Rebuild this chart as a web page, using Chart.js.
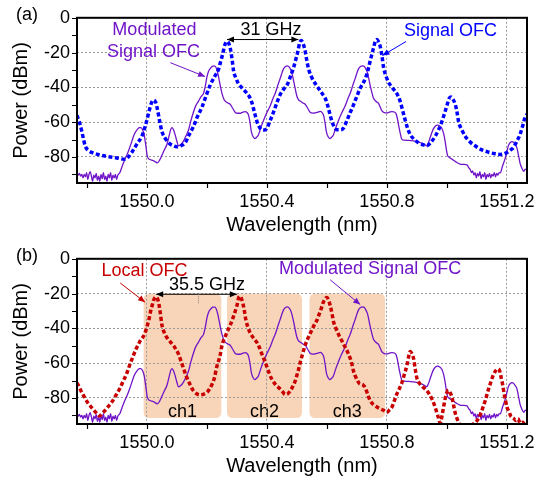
<!DOCTYPE html>
<html><head><meta charset="utf-8">
<script src="https://cdn.jsdelivr.net/npm/chart.js@4.4.1/dist/chart.umd.min.js"></script>
<style>
html,body{margin:0;padding:0;background:#fff;}
#wrap{position:relative;width:547px;height:481px;background:#fff;}
.pane{position:absolute;left:0;width:547px;height:240px;}
canvas{display:block;}
</style></head><body>
<div id="wrap">
<div class="pane" style="top:0px"><canvas id="ca" width="547" height="240"></canvas></div>
<div class="pane" style="top:241px"><canvas id="cb" width="547" height="240"></canvas></div>
</div>
<script>
// ---------- data ----------
const xTicks = [1550.0, 1550.4, 1550.8, 1551.2];
const yTicks = [0, -20, -40, -60, -80];

// (a) Signal OFC (blue dotted)
const signalWl = [1549.767,1549.775,1549.783,1549.789,1549.794,1549.805,1549.822,1549.85,1549.878,1549.9,1549.924,1549.938,1549.95,1549.967,1549.983,1549.995,1550.005,1550.014,1550.022,1550.029,1550.035,1550.042,1550.05,1550.06,1550.072,1550.085,1550.1,1550.114,1550.128,1550.14,1550.155,1550.168,1550.183,1550.197,1550.211,1550.225,1550.239,1550.246,1550.252,1550.26,1550.267,1550.273,1550.278,1550.284,1550.289,1550.297,1550.305,1550.318,1550.333,1550.342,1550.35,1550.358,1550.367,1550.375,1550.383,1550.392,1550.4,1550.41,1550.422,1550.433,1550.444,1550.456,1550.467,1550.478,1550.489,1550.497,1550.503,1550.509,1550.514,1550.52,1550.528,1550.533,1550.539,1550.55,1550.561,1550.572,1550.583,1550.592,1550.6,1550.608,1550.617,1550.625,1550.633,1550.645,1550.655,1550.667,1550.678,1550.69,1550.7,1550.711,1550.728,1550.737,1550.744,1550.75,1550.755,1550.761,1550.767,1550.772,1550.778,1550.784,1550.789,1550.797,1550.805,1550.817,1550.828,1550.836,1550.844,1550.852,1550.861,1550.87,1550.878,1550.89,1550.905,1550.92,1550.933,1550.947,1550.961,1550.972,1550.983,1550.992,1551.0,1551.007,1551.013,1551.02,1551.028,1551.034,1551.039,1551.05,1551.061,1551.078,1551.094,1551.115,1551.139,1551.16,1551.178,1551.2,1551.212,1551.222,1551.233,1551.244,1551.252,1551.261,1551.267];
const signalPow = [-56.1,-60,-65.3,-70,-73.6,-76.3,-77.8,-79.2,-80,-80.6,-81.3,-80,-77.3,-72.5,-68.1,-62,-55.3,-49.5,-47.3,-48.5,-52.5,-59,-65.3,-69,-71.8,-73.4,-74.2,-73.5,-71.8,-67.5,-62.6,-57,-51.6,-45,-38.7,-34,-29.5,-25,-21.3,-15.5,-13.6,-14.8,-17.6,-24,-30.5,-34.8,-37.8,-40.5,-43.3,-45.5,-48.8,-54,-59.8,-62.8,-64.4,-64.5,-63.5,-59.5,-54.3,-49,-44.2,-41,-38.7,-34,-28.6,-23.5,-19.5,-14.5,-13,-14.5,-19.5,-24.5,-29.5,-34.5,-37.8,-40.5,-43.3,-45.5,-48.8,-54,-59.8,-62.8,-64.4,-64.4,-63.5,-59,-54.3,-49.5,-45.1,-40.5,-35,-30,-25,-21,-17.6,-13.8,-12.5,-13.8,-16.7,-22.5,-28.6,-33.5,-36.9,-40,-42.4,-44.5,-47.9,-53,-58.9,-64,-67.2,-69.8,-71.8,-73,-73.6,-71.5,-68.1,-64.5,-59.8,-55,-50.6,-46.5,-45.5,-46.8,-49.8,-54.5,-59.8,-64.5,-68.1,-71.5,-73.6,-75.8,-77.3,-78.2,-78.6,-77.5,-76,-74.5,-71,-67,-62.5,-57,-55.5];

// Modulated Signal OFC (purple solid, both panels)
const modWl = [1549.767,1549.771,1549.775,1549.779,1549.783,1549.787,1549.791,1549.795,1549.799,1549.803,1549.807,1549.811,1549.815,1549.819,1549.823,1549.827,1549.831,1549.835,1549.839,1549.843,1549.847,1549.851,1549.855,1549.859,1549.863,1549.867,1549.871,1549.875,1549.879,1549.883,1549.887,1549.891,1549.895,1549.899,1549.903,1549.91,1549.917,1549.925,1549.933,1549.942,1549.95,1549.958,1549.967,1549.975,1549.98,1549.986,1549.991,1549.996,1550.002,1550.01,1550.02,1550.03,1550.035,1550.042,1550.05,1550.058,1550.067,1550.075,1550.08,1550.084,1550.089,1550.094,1550.1,1550.105,1550.112,1550.122,1550.13,1550.139,1550.147,1550.155,1550.163,1550.172,1550.18,1550.189,1550.195,1550.2,1550.205,1550.211,1550.218,1550.224,1550.23,1550.235,1550.239,1550.245,1550.25,1550.256,1550.261,1550.27,1550.278,1550.286,1550.294,1550.303,1550.311,1550.32,1550.328,1550.334,1550.339,1550.344,1550.348,1550.353,1550.359,1550.365,1550.372,1550.38,1550.389,1550.4,1550.411,1550.42,1550.428,1550.436,1550.444,1550.45,1550.455,1550.462,1550.469,1550.475,1550.481,1550.487,1550.492,1550.5,1550.505,1550.511,1550.52,1550.528,1550.536,1550.544,1550.553,1550.561,1550.57,1550.578,1550.584,1550.589,1550.594,1550.598,1550.603,1550.609,1550.615,1550.622,1550.63,1550.639,1550.65,1550.661,1550.67,1550.678,1550.686,1550.694,1550.7,1550.705,1550.712,1550.719,1550.725,1550.73,1550.735,1550.744,1550.75,1550.755,1550.763,1550.772,1550.778,1550.783,1550.791,1550.8,1550.808,1550.817,1550.825,1550.831,1550.835,1550.839,1550.844,1550.85,1550.858,1550.867,1550.88,1550.894,1550.905,1550.917,1550.925,1550.933,1550.938,1550.944,1550.95,1550.955,1550.962,1550.969,1550.976,1550.983,1550.989,1550.994,1550.998,1551.002,1551.01,1551.022,1551.033,1551.044,1551.055,1551.067,1551.072,1551.078,1551.082,1551.086,1551.09,1551.094,1551.098,1551.102,1551.106,1551.11,1551.114,1551.118,1551.122,1551.126,1551.13,1551.134,1551.138,1551.142,1551.146,1551.15,1551.154,1551.158,1551.162,1551.166,1551.17,1551.174,1551.178,1551.185,1551.194,1551.2,1551.205,1551.211,1551.217,1551.223,1551.228,1551.233,1551.238,1551.244,1551.25,1551.256,1551.261,1551.267];
const modPow = [-89,-90.5,-89.5,-91,-90,-92,-90,-91.5,-89,-93,-90,-88.5,-91,-94,-90.5,-92,-89.5,-93.5,-91,-94,-90,-92.5,-89,-93,-91,-94,-90,-92,-89,-93.5,-90.5,-92,-90,-93,-90.5,-89,-85.6,-82,-79,-75,-70.9,-67,-64.4,-63.2,-63.1,-64.5,-67.2,-73,-80,-81.5,-82,-83,-83.4,-82,-79.1,-76,-72.7,-67.2,-64,-63.1,-64.5,-67.2,-71,-73.6,-73,-70.9,-68,-64.4,-59,-54.3,-50.5,-47.9,-45.5,-43.3,-39,-34.1,-31,-29.2,-27.9,-27.7,-28.4,-31,-34.1,-39.5,-43.3,-46.5,-47.9,-49,-49.8,-52,-54.3,-54.9,-54.9,-54.2,-53.9,-54.5,-56.1,-60.5,-65.3,-68,-69.4,-68.8,-67.2,-63,-58.9,-54.5,-50.6,-46.5,-43.3,-39,-35,-31.8,-29.5,-28,-27.7,-28.5,-30.5,-34.5,-38.7,-45.1,-47,-47.9,-49,-49.8,-52,-54.3,-54.8,-54.7,-54.2,-53.8,-54.5,-56.1,-60.5,-65.3,-68,-69.4,-68.8,-67.2,-63,-58.9,-54.5,-50.6,-46.5,-43.3,-39,-35,-31.8,-29.5,-28,-27.7,-28,-29.5,-31.4,-38.7,-43,-46.1,-48,-49.2,-51.5,-53.4,-54.5,-54.7,-54.3,-53.9,-54.2,-55.3,-58,-61.7,-66,-69.9,-70.4,-70.5,-70.6,-70.9,-71.4,-72.1,-72.8,-73.6,-72,-69,-66,-63.9,-62.2,-61.7,-62.2,-63.5,-66.5,-70.9,-75.5,-79.1,-80.5,-81.9,-83.2,-84.1,-84.3,-84.6,-86,-87.4,-89,-88,-90.5,-89,-92,-89.5,-91,-88.5,-92.5,-90,-91.5,-89,-93,-90,-91.5,-89.5,-92,-90,-91,-89,-91.5,-89.5,-90.5,-89,-89.2,-85.5,-81,-77,-73.5,-71.8,-71.2,-71.8,-73,-74.5,-78.5,-83.7,-86.5,-88.3,-87,-87.5];

// (b) Local OFC (red dotted)
const localWl = [1549.767,1549.775,1549.783,1549.794,1549.805,1549.817,1549.828,1549.835,1549.842,1549.851,1549.861,1549.872,1549.883,1549.897,1549.911,1549.922,1549.933,1549.944,1549.955,1549.963,1549.972,1549.98,1549.989,1549.996,1550.002,1550.008,1550.013,1550.018,1550.022,1550.027,1550.031,1550.036,1550.04,1550.045,1550.05,1550.058,1550.067,1550.078,1550.089,1550.097,1550.105,1550.113,1550.122,1550.13,1550.139,1550.147,1550.155,1550.166,1550.178,1550.19,1550.2,1550.209,1550.217,1550.225,1550.233,1550.244,1550.25,1550.265,1550.278,1550.289,1550.3,1550.308,1550.314,1550.319,1550.325,1550.33,1550.337,1550.344,1550.355,1550.367,1550.375,1550.383,1550.392,1550.4,1550.408,1550.417,1550.425,1550.433,1550.442,1550.45,1550.461,1550.47,1550.478,1550.486,1550.494,1550.5,1550.505,1550.512,1550.519,1550.526,1550.533,1550.542,1550.55,1550.558,1550.567,1550.574,1550.581,1550.587,1550.592,1550.6,1550.605,1550.611,1550.617,1550.622,1550.63,1550.639,1550.65,1550.661,1550.67,1550.678,1550.684,1550.689,1550.696,1550.703,1550.71,1550.717,1550.722,1550.728,1550.736,1550.744,1550.755,1550.767,1550.778,1550.789,1550.8,1550.808,1550.817,1550.825,1550.833,1550.842,1550.85,1550.858,1550.867,1550.872,1550.878,1550.883,1550.889,1550.894,1550.9,1550.908,1550.917,1550.925,1550.933,1550.942,1550.95,1550.957,1550.964,1550.971,1550.978,1550.984,1550.989,1550.994,1550.998,1551.005,1551.011,1551.017,1551.022,1551.028,1551.034,1551.039,1551.047,1551.055,1551.065,1551.078,1551.086,1551.094,1551.103,1551.111,1551.12,1551.128,1551.136,1551.144,1551.152,1551.161,1551.17,1551.176,1551.18,1551.186,1551.191,1551.196,1551.2,1551.207,1551.213,1551.222,1551.23,1551.237,1551.244,1551.252,1551.26,1551.267];
const localPow = [-71.3,-74,-76.9,-80.2,-83.3,-85.8,-88,-89.3,-90.4,-89,-87.1,-84.8,-82.4,-78.4,-74.1,-70,-65.8,-60.5,-55.6,-52.2,-49.1,-46.5,-44.4,-41.5,-38,-34,-29.7,-26.5,-24.1,-22.3,-21.9,-23.2,-25.9,-31.5,-38,-42.5,-45.4,-47.8,-50,-52.2,-54.7,-58.5,-63,-67,-70.4,-73.5,-75.9,-77.6,-78.3,-77.8,-76.9,-74.8,-72.2,-68.5,-62,-55.6,-50,-43,-38,-33,-27,-21.5,-22.5,-25,-30,-35.2,-39.5,-42.6,-45.5,-48.2,-51,-54.7,-58.5,-62.1,-66,-69.4,-71.5,-73.2,-74.5,-75.9,-78,-77.5,-75.9,-73.5,-70.4,-67,-63.9,-59,-54.7,-50.5,-47.2,-43.8,-40.8,-38,-35.2,-32,-28.7,-25.5,-23.5,-22.2,-23.5,-26.9,-31.5,-36.1,-40,-43.6,-47.2,-50.9,-54,-57.4,-61,-64.8,-68,-70.4,-72,-72.2,-72.8,-74.1,-78,-81.5,-83.8,-85.2,-86.3,-87.1,-88.3,-87,-85.2,-81.5,-77.8,-74.5,-71.3,-66.5,-61.1,-56.5,-53.3,-54.5,-57.4,-63,-68.6,-71.5,-73.2,-74.5,-75.9,-78,-80.6,-83.5,-87.1,-91,-94.5,-90,-85.2,-80.5,-77.8,-75.6,-77,-79.7,-84,-88.9,-92,-94.4,-95.5,-96,-95.8,-96,-95.2,-94.4,-92.5,-89.8,-85.5,-81.5,-76.5,-72.2,-68,-64.8,-63.3,-64.5,-67.6,-72.5,-77.8,-82,-85.2,-88,-90.5,-91.7,-93,-92,-94.4,-94,-95,-95];

// channels (b)
const channelNames = ['ch1', 'ch2', 'ch3'];
const channelStart = [1549.989, 1550.267, 1550.542];
const channelEnd = [1550.248, 1550.517, 1550.794];
const channelTop = -20;
const channelBottom = -91.5;

// ---------- rendering ----------
const FONT = '"Liberation Sans", Arial, Helvetica, sans-serif';
Chart.defaults.font.family = FONT;
Chart.defaults.color = '#000';
const BLUE = '#0000ff', PURPLE = '#7014c8', RED = '#c80000';

function pts(xs, ys) { return xs.map((x, i) => ({x: x, y: ys[i]})); }

function arrowHead(ctx, x1, y1, x2, y2, len, wid) {
  const a = Math.atan2(y2 - y1, x2 - x1);
  ctx.beginPath();
  ctx.moveTo(x2, y2);
  ctx.lineTo(x2 - len * Math.cos(a) + wid * Math.sin(a), y2 - len * Math.sin(a) - wid * Math.cos(a));
  ctx.lineTo(x2 - len * Math.cos(a) - wid * Math.sin(a), y2 - len * Math.sin(a) + wid * Math.cos(a));
  ctx.closePath();
  ctx.fill();
}
function drawArrow(chart, a) {
  const ctx = chart.ctx, xs = chart.scales.x, ys = chart.scales.y;
  const x1 = xs.getPixelForValue(a.x1), y1 = ys.getPixelForValue(a.y1);
  const x2 = xs.getPixelForValue(a.x2), y2 = ys.getPixelForValue(a.y2);
  ctx.save();
  ctx.strokeStyle = a.c; ctx.fillStyle = a.c; ctx.lineWidth = 1;
  ctx.beginPath(); ctx.moveTo(x1, y1); ctx.lineTo(x2, y2); ctx.stroke();
  arrowHead(ctx, x1, y1, x2, y2, 7, 3);
  if (a.both) arrowHead(ctx, x2, y2, x1, y1, 7, 3);
  ctx.restore();
}
function drawText(chart, t) {
  const ctx = chart.ctx;
  ctx.save();
  ctx.font = (t.size || 18) + 'px ' + FONT;
  ctx.fillStyle = t.c; ctx.textAlign = 'center'; ctx.textBaseline = 'middle';
  ctx.fillText(t.t, chart.scales.x.getPixelForValue(t.x), chart.scales.y.getPixelForValue(t.y));
  ctx.restore();
}

function decorPlugin(panel) {
  return {
    id: 'decor' + panel.id,
    beforeDraw(chart) {
      const ctx = chart.ctx;
      ctx.save(); ctx.fillStyle = '#fff'; ctx.fillRect(0, 0, chart.width, chart.height); ctx.restore();
      if (panel.boxes) {
        const xs = chart.scales.x, ys = chart.scales.y;
        ctx.save();
        ctx.fillStyle = '#f8d4b8';
        for (let i = 0; i < channelNames.length; i++) {
          const l = xs.getPixelForValue(channelStart[i]), r = xs.getPixelForValue(channelEnd[i]);
          const t = ys.getPixelForValue(channelTop), b = ys.getPixelForValue(channelBottom);
          const rr = 6;
          ctx.beginPath();
          ctx.moveTo(l + rr, t); ctx.lineTo(r - rr, t); ctx.quadraticCurveTo(r, t, r, t + rr);
          ctx.lineTo(r, b - rr); ctx.quadraticCurveTo(r, b, r - rr, b);
          ctx.lineTo(l + rr, b); ctx.quadraticCurveTo(l, b, l, b - rr);
          ctx.lineTo(l, t + rr); ctx.quadraticCurveTo(l, t, l + rr, t);
          ctx.closePath(); ctx.fill();
        }
        ctx.restore();
        for (let i = 0; i < channelNames.length; i++) {
          drawText(chart, {t: channelNames[i], x: (channelStart[i] + channelEnd[i]) / 2, y: -88.2, c: '#000', size: 18});
        }
      }
    },
    afterDatasetsDraw(chart) {
      const ctx = chart.ctx, a = chart.chartArea, xs = chart.scales.x, ys = chart.scales.y;
      ctx.save();
      // frame
      ctx.strokeStyle = '#000'; ctx.lineWidth = 2;
      ctx.strokeRect(a.left, a.top, a.right - a.left, a.bottom - a.top);
      // ticks
      ctx.lineWidth = 1.2;
      ctx.beginPath();
      for (let v = 1549.8; v <= 1551.27; v += 0.2) {
        const px = Math.round(xs.getPixelForValue(v)) + 0.5;
        ctx.moveTo(px, a.bottom); ctx.lineTo(px, a.bottom + 5);
      }
      for (let v = -90; v <= 0; v += 10) {
        const py = Math.round(ys.getPixelForValue(v)) + 0.5;
        ctx.moveTo(a.left - 5, py); ctx.lineTo(a.left, py);
      }
      ctx.stroke();
      ctx.restore();
      // panel label
      ctx.save();
      ctx.font = '18px ' + FONT; ctx.fillStyle = '#000'; ctx.textAlign = 'left'; ctx.textBaseline = 'middle';
      ctx.fillText(panel.label, 16, 15);
      ctx.restore();
      panel.texts.forEach(t => drawText(chart, t));
      panel.arrows.forEach(ar => drawArrow(chart, ar));
      if (panel.marker) {
        const m = panel.marker;
        ctx.save(); ctx.strokeStyle = '#888'; ctx.lineWidth = 1; ctx.setLineDash([1, 1]);
        const px = xs.getPixelForValue(m.x);
        ctx.beginPath(); ctx.moveTo(px, ys.getPixelForValue(m.y1)); ctx.lineTo(px, ys.getPixelForValue(m.y2)); ctx.stroke();
        ctx.restore();
      }
    }
  };
}

function makeChart(id, datasets, panel) {
  return new Chart(document.getElementById(id), {
    type: 'line',
    data: { datasets: datasets },
    options: {
      responsive: false, animation: false, devicePixelRatio: 1,
      layout: { padding: { top: 12, right: 20, left: 0, bottom: 0 } },
      plugins: { legend: { display: false }, tooltip: { enabled: false } },
      elements: { point: { radius: 0 } },
      scales: {
        x: {
          type: 'linear', min: 1549.767, max: 1551.267,
          afterBuildTicks: s => { s.ticks = xTicks.map(v => ({ value: v })); },
          afterFit: s => { s.height = 57; },
          ticks: { callback: v => v.toFixed(1), font: { size: 18 }, color: '#000', padding: 8, maxRotation: 0, autoSkip: false },
          grid: { color: '#9a9a9a', lineWidth: 1, drawTicks: false },
          border: { display: false, dash: [2, 2] },
          title: { display: true, text: 'Wavelength (nm)', font: { size: 20 }, color: '#000', padding: { top: 0, bottom: 3 } }
        },
        y: {
          type: 'linear', min: -95, max: 0,
          afterBuildTicks: s => { s.ticks = yTicks.map(v => ({ value: v })); },
          afterFit: s => { s.width = 77; },
          ticks: { callback: v => String(v), font: { size: 18 }, color: '#000', padding: 7 },
          grid: { color: '#9a9a9a', lineWidth: 1, drawTicks: false },
          border: { display: false, dash: [2, 2] },
          title: { display: true, text: 'Power (dBm)', font: { size: 20 }, color: '#000', padding: { top: 9, bottom: 0 } }
        }
      }
    },
    plugins: [decorPlugin(panel)]
  });
}

const dotted = (label, xs, ys, color) => ({
  label: label, data: pts(xs, ys), borderColor: color, borderWidth: 3.5,
  borderDash: [4, 2.5], cubicInterpolationMode: 'monotone', pointRadius: 0, clip: 0, fill: false
});
const solid = (label, xs, ys, color) => ({
  label: label, data: pts(xs, ys), borderColor: color, borderWidth: 1.3,
  cubicInterpolationMode: 'monotone', pointRadius: 0, clip: 0, fill: false
});

makeChart('ca', [
  dotted('Signal OFC', signalWl, signalPow, BLUE),
  solid('Modulated Signal OFC', modWl, modPow, PURPLE)
], {
  id: 'a', label: '(a)',
  texts: [
    { t: 'Modulated', x: 1550.025, y: -6.9, c: PURPLE },
    { t: 'Signal OFC', x: 1550.022, y: -19.5, c: PURPLE },
    { t: '31 GHz', x: 1550.414, y: -6.9, c: '#000' },
    { t: 'Signal OFC', x: 1551.012, y: -7.5, c: BLUE }
  ],
  arrows: [
    { x1: 1550.078, y1: -25.8, x2: 1550.194, y2: -33.8, c: PURPLE },
    { x1: 1550.864, y1: -13.6, x2: 1550.785, y2: -21.7, c: BLUE },
    { x1: 1550.267, y1: -12.5, x2: 1550.505, y2: -12.5, c: '#000', both: true }
  ]
});

makeChart('cb', [
  dotted('Local OFC', localWl, localPow, RED),
  solid('Modulated Signal OFC', modWl, modPow, PURPLE)
], {
  id: 'b', label: '(b)', boxes: true,
  texts: [
    { t: 'Local OFC', x: 1549.992, y: -7.1, c: RED },
    { t: '35.5 GHz', x: 1550.2, y: -15.2, c: '#000' },
    { t: 'Modulated Signal OFC', x: 1550.744, y: -5.9, c: PURPLE }
  ],
  arrows: [
    { x1: 1549.911, y1: -13.9, x2: 1549.994, y2: -25, c: RED },
    { x1: 1550.031, y1: -20.4, x2: 1550.3, y2: -20.4, c: '#000', both: true },
    { x1: 1550.611, y1: -12.1, x2: 1550.711, y2: -26.3, c: PURPLE }
  ],
  marker: { x: 1550.172, y1: -20.4, y2: -25.9 }
});
</script>
</body></html>
